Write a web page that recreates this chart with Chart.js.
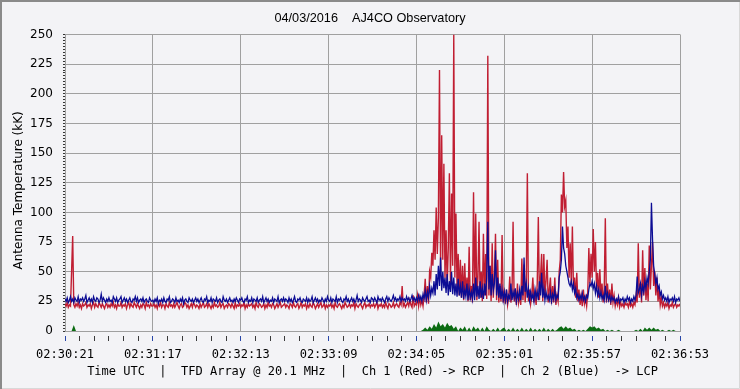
<!DOCTYPE html>
<html>
<head>
<meta charset="utf-8">
<script src="https://cdn.jsdelivr.net/npm/chart.js@4.4.1/dist/chart.umd.min.js"></script>
<style>
  html, body { margin: 0; padding: 0; background: #f3f3f6; }
  canvas { display: block; }
</style>
</head>
<body>
<canvas id="chart" width="740" height="389"></canvas>
<script>
// 02:30:21 -> 02:36:53, one sample every 0.7 s for the two channels
const SPAN_SEC = 392;
const times = [];
for (let i = 0; i <= 560; i++) times.push(i * 0.7);

const timeLabels = ["02:30:21", "02:31:17", "02:32:13", "02:33:09", "02:34:05", "02:35:01", "02:35:57", "02:36:53"];

// Ch 1 (red) -> RCP, kK  (rows of 40 samples = 28 s)
const rcp = [
  23,21,24,20,22,21,50,80,22,20, 23,21,24,20,22,19,23,21,22,24, 20,22,21,23,19,22,24,20,23,21, 20,24,22,20,23,21,19,22,23,20,
  22,20,23,21,24,20,22,19,23,21, 21,24,20,22,21,23,19,22,24,20, 23,21,20,24,22,20,23,21,19,22, 20,23,22,19,24,21,22,20,23,21,
  21,23,20,22,19,23,21,24,20,22, 22,19,23,21,20,24,21,22,20,23, 20,22,24,21,19,22,23,20,21,24, 23,20,22,19,21,23,20,24,22,20,
  22,21,19,23,20,22,24,20,21,23, 20,23,21,19,22,20,24,21,22,20, 21,24,20,22,23,19,21,22,20,23, 22,20,23,21,19,24,20,22,21,23,
  20,22,21,24,19,22,20,23,21,22, 23,20,22,19,24,21,20,23,22,20, 21,23,19,22,20,24,21,22,20,23, 22,19,21,23,20,22,24,20,21,22,
  23,20,22,21,19,23,22,20,24,21, 20,22,23,19,21,24,20,22,21,23, 19,22,20,23,21,20,24,22,19,21, 23,20,22,24,20,21,23,19,22,20,
  22,21,23,20,22,19,24,21,20,22, 23,21,19,22,20,24,22,20,21,23, 20,22,21,24,19,23,21,20,22,23, 21,19,22,24,20,22,21,23,20,22,
  21,23,20,22,24,19,22,21,23,20, 22,20,24,21,19,23,22,20,21,24, 20,22,23,21,20,24,22,38,21,23, 20,22,24,21,26,22,20,30,21,23,
  22,30,21,28,22,26,21,30,44,24, 38,23,50,45,66,55,85,60,104,65, 96,220,50,165,60,141,45,85,38,70, 133,40,116,55,250,45,99,35,65,30,
  60,28,55,26,57,30,45,25,71,26, 38,24,117,30,99,26,45,92,28,50, 25,82,30,65,27,232,30,55,25,74, 28,45,82,26,60,24,38,25,81,24,
  32,23,35,22,28,46,24,30,92,25, 35,22,40,24,30,22,61,26,56,24, 38,133,25,35,23,30,45,24,32,22, 40,96,26,45,65,25,65,30,42,60,
  24,35,45,23,38,24,45,22,30,25, 50,60,115,100,134,105,110,70,88,45, 74,40,88,35,45,28,49,25,35,22, 30,21,35,23,28,21,32,70,40,65,
  45,86,50,75,35,49,28,52,30,40, 24,35,95,24,40,25,35,22,40,24, 30,21,26,22,28,20,24,21,23,20, 24,22,23,20,25,21,23,20,24,22,
  30,24,74,28,40,24,68,30,53,26, 40,25,72,35,55,75,38,50,30,45, 25,35,22,28,21,24,20,23,21,24, 19,22,21,24,20,22,23,20,22,21,
  23
];

// Ch 2 (blue) -> LCP, kK
const lcp = [
  27,25,28,24,26,29,25,27,24,28, 26,25,29,24,27,26,28,25,27,30, 24,26,28,25,27,24,29,26,25,28, 27,24,26,31,25,28,26,24,27,25,
  28,25,26,24,29,27,25,28,24,26, 27,29,24,26,28,25,27,24,26,28, 25,24,27,26,29,25,28,24,26,27, 25,28,24,26,27,25,24,28,26,25,
  26,24,27,25,28,23,26,25,27,24, 28,25,24,27,26,29,24,25,27,26, 24,28,25,26,24,27,25,28,23,26, 27,25,24,28,26,25,27,24,26,28,
  25,27,24,26,28,25,24,27,26,29, 24,26,25,28,24,27,26,25,28,24, 26,27,25,24,29,26,25,27,24,26, 28,25,26,24,27,25,28,26,24,27,
  26,28,25,24,27,26,29,24,26,25, 28,24,27,26,25,28,24,26,27,25, 29,24,26,28,25,27,24,26,25,28, 24,27,26,25,29,24,26,27,25,28,
  25,27,26,24,28,25,27,24,26,29, 25,24,27,26,28,25,24,27,26,25, 28,24,27,25,26,29,24,26,28,25, 27,24,26,25,28,26,24,27,25,29,
  26,25,28,24,27,26,25,29,24,27, 26,28,25,24,27,26,29,25,27,24, 26,28,25,27,24,26,30,25,27,26, 24,28,26,25,27,29,25,26,24,28,
  27,25,28,26,24,29,26,27,25,28, 26,24,27,29,25,28,26,25,27,30, 26,28,25,27,26,29,25,28,26,27, 25,29,26,28,25,27,30,26,28,25,
  28,25,30,26,29,25,31,27,34,26, 33,28,38,30,36,32,42,30,48,35, 55,38,62,34,50,36,45,32,48,30, 42,33,50,31,45,30,40,29,44,30,
  38,28,42,27,35,29,40,26,36,28, 33,27,40,26,45,29,38,27,42,28, 36,27,40,30,45,92,35,55,30,48, 34,40,68,30,45,28,40,27,35,26,
  33,26,35,25,30,27,40,26,33,28, 36,25,32,27,35,26,38,30,62,33, 40,28,36,26,33,27,31,25,35,28, 33,26,42,30,49,28,36,26,33,27,
  30,26,33,25,31,27,35,26,30,28, 45,50,60,88,70,65,55,50,45,40, 38,42,35,40,32,36,28,31,26,30, 27,32,26,29,25,30,28,35,40,38,
  42,36,40,32,38,30,35,28,33,27, 30,26,38,27,32,26,30,25,29,26, 28,24,27,25,29,24,27,26,28,24, 27,25,29,26,28,24,27,25,29,26,
  30,46,32,35,40,30,38,33,42,36, 45,40,50,60,108,77,55,48,40,45, 35,38,30,33,27,30,26,28,25,29, 24,27,26,28,25,29,24,27,26,28,
  25
];

// green trace near the floor, one sample every 1.4 s
const diffTimes = [];
for (let i = 0; i <= 280; i++) diffTimes.push(i * 1.4);
const diff = [
  0,0,0,0,5,0,0,0,0,0, 0,0,0,0,0,0,0,0,0,0, 0,0,0,0,0,0,0,0,0,0, 0,0,0,0,0,0,0,0,0,0,
  0,0,0,0,0,0,0,0,0,0, 0,0,0,0,0,0,0,0,0,0, 0,0,0,0,0,0,0,0,0,0, 0,0,0,0,0,0,0,0,0,0,
  0,0,0,0,0,0,0,0,0,0, 0,0,0,0,0,0,0,0,0,0, 0,0,0,0,0,0,0,0,0,0, 0,0,0,0,0,0,0,0,0,0,
  0,0,0,0,0,0,0,0,0,0, 0,0,0,0,0,0,0,0,0,0, 0,0,0,0,0,0,0,0,0,0, 0,0,0,0,0,0,0,0,0,0,
  0,0,0,1,3,1,4,2,6,3, 8,4,6,3,7,4,5,2,4,0, 3,1,4,0,3,0,4,1,3,0, 3,0,4,1,0,2,0,3,0,2,
  3,0,2,0,3,0,2,0,3,0, 2,0,3,0,2,0,2,0,3,0, 2,0,2,0,1,3,4,2,4,2, 3,1,2,0,1,0,1,0,2,4,
  3,4,2,3,1,2,0,1,0,1, 0,0,1,0,0,0,0,0,0,0, 1,0,2,0,3,1,3,1,3,1, 2,0,1,0,0,1,0,1,0,0,
  0
];

// x ticks every 56/6 s, labelled every 56 s
const xTickValues = [];
for (let i = 0; i <= 42; i++) xTickValues.push(i * 56 / 6);

const BG = "#f3f3f6";
const GRID = "#a0a0a0";
const RED = "#c01e32";
const BLUE = "#0c0c94";
const GREEN = "#0b6b12";
const CAPTION = "Time UTC  |  TFD Array @ 20.1 MHz  |  Ch 1 (Red) -> RCP  |  Ch 2 (Blue)  -> LCP";

const backdrop = {
  id: "backdrop",
  beforeDraw(chart) {
    const { ctx, width, height } = chart;
    ctx.save();
    ctx.fillStyle = BG;
    ctx.fillRect(0, 0, width, height);
    ctx.strokeStyle = "#8a8a8a";
    ctx.lineWidth = 2;
    ctx.beginPath();
    ctx.moveTo(1, height);
    ctx.lineTo(1, 1);
    ctx.lineTo(width, 1);
    ctx.stroke();
    ctx.strokeStyle = "#d8d8d8";
    ctx.lineWidth = 1;
    ctx.beginPath();
    ctx.moveTo(width - 0.5, 2);
    ctx.lineTo(width - 0.5, height - 0.5);
    ctx.lineTo(2, height - 0.5);
    ctx.stroke();
    ctx.restore();
  }
};

Chart.defaults.font.family = "DejaVu Sans";
Chart.defaults.color = "#000";

new Chart(document.getElementById("chart"), {
  type: "line",
  data: {
    labels: times,
    datasets: [
      { label: "Ch 2 (Blue) LCP", data: lcp, borderColor: BLUE, borderWidth: 1.3, pointRadius: 0, fill: false, order: 1 },
      { label: "Ch 1 (Red) RCP", data: rcp, borderColor: RED, borderWidth: 1.4, pointRadius: 0, fill: false, order: 2 },
      {
        label: "Diff",
        data: diffTimes.map((t, i) => ({ x: t, y: diff[i] })),
        borderColor: GREEN, borderWidth: 0, backgroundColor: GREEN,
        pointRadius: 0, fill: "origin", order: 3
      }
    ]
  },
  options: {
    responsive: false,
    animation: false,
    events: [],
    layout: { padding: 0 },
    plugins: {
      legend: { display: false },
      tooltip: { enabled: false },
      title: {
        display: true,
        text: "04/03/2016    AJ4CO Observatory",
        font: { family: "Liberation Sans", size: 12.7, weight: "normal" },
        color: "#000",
        padding: { top: 10.8, bottom: 8.4 }
      }
    },
    scales: {
      x: {
        type: "linear",
        min: 0,
        max: SPAN_SEC,
        afterBuildTicks(axis) { axis.ticks = xTickValues.map(v => ({ value: v })); },
        afterFit(axis) { axis.height = 58; },
        grid: {
          color: ctx => ctx.index % 6 === 0 ? GRID : "transparent",
          tickColor: ctx => ctx.index % 6 === 0 ? "#2846a8" : "#3a3a3a",
          tickLength: 10,
          tickBorderDash: [0, 4, 5, 100]
        },
        border: { color: GRID },
        ticks: {
          autoSkip: false,
          maxRotation: 0,
          minRotation: 0,
          padding: 6.8,
          font: { family: "DejaVu Sans Mono", size: 12 },
          callback: (v, i) => i % 6 === 0 ? timeLabels[i / 6] : ""
        },
        title: {
          display: true,
          text: CAPTION,
          font: { family: "DejaVu Sans Mono", size: 12 },
          padding: { top: 0, bottom: 9.8 }
        }
      },
      y: {
        min: 0,
        max: 250,
        afterFit(axis) { axis.width = 65; },
        grid: {
          color: ctx => ctx.tick && ctx.tick.value % 25 === 0 ? GRID : "transparent",
          tickColor: "#333",
          tickLength: 8,
          tickBorderDash: [0, 6, 2, 100]
        },
        border: { color: GRID },
        ticks: {
          stepSize: 2.5,
          autoSkip: false,
          padding: 4,
          font: { size: 12 },
          callback: v => v % 25 === 0 ? v : ""
        },
        title: {
          display: true,
          text: "Antenna Temperature (kK)    ",
          font: { size: 12 },
          padding: { top: 12, bottom: 0 }
        }
      },
      y2: {
        position: "right",
        afterFit(axis) { axis.width = 60; },
        grid: { display: false },
        ticks: { display: false },
        border: { display: false }
      }
    }
  },
  plugins: [backdrop]
});
</script>
</body>
</html>
